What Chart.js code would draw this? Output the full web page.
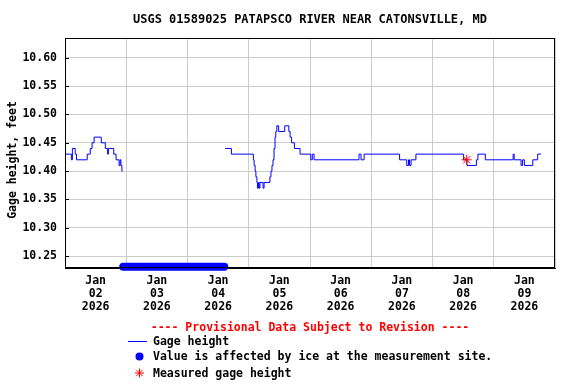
<!DOCTYPE html>
<html>
<head>
<meta charset="utf-8">
<script src="https://cdn.jsdelivr.net/npm/chart.js@4.4.1/dist/chart.umd.min.js"></script>
<style>
    body { margin: 0; background: #fff; }
    #wrap { position: relative; width: 576px; height: 384px; font-family: 'DejaVu Sans Mono', monospace; font-weight: bold; color: #000; }
    #wrap canvas { position: absolute; left: 0; top: 0; }
    .txt { position: absolute; white-space: pre; line-height: 14px; font-size: 11.5px; }
</style>
</head>
<body>
<div id="wrap">
    <canvas id="gageChart" width="576" height="384"></canvas>
    <div class="txt" style="left:65px; width:490px; top:12px; text-align:center; font-size:12px;">USGS 01589025 PATAPSCO RIVER NEAR CATONSVILLE, MD</div>
    <div class="txt" style="left:-88px; width:200px; top:153px; text-align:center; transform:rotate(-90deg);">Gage height, feet</div>
    <div class="txt" style="left:65px; width:490px; top:320px; text-align:center; color:#ff0000;">---- Provisional Data Subject to Revision ----</div>
    <div class="txt" style="left:153px; top:334px;">Gage height</div>
    <div class="txt" style="left:153px; top:349px;">Value is affected by ice at the measurement site.</div>
    <div class="txt" style="left:153px; top:366px;">Measured gage height</div>
</div>
<script>
// hours since Jan 02 00:00
const monthLabel = 'Jan';
const yearLabel = '2026';
const dayLabels = ['02', '03', '04', '05', '06', '07', '08', '09'];

const gageHours = [
    0.0, 2.5, 2.9, 4.0, 4.5, 8.7, 9.9, 10.6, 11.4, 14.2, 15.8, 16.7, 17.0, 19.1, 20.0, 21.2, 21.6, 21.9, 22.3, 22.5,
    42.0,
    62.7, 65.2, 73.8, 74.1, 74.5, 74.8, 75.2, 75.4, 75.8, 76.1, 76.4, 77.6, 78.0, 80.3, 80.7, 81.1, 81.5, 81.9, 82.3,
    82.6, 83.0, 83.7, 86.1, 87.7, 88.2, 88.8, 89.9, 92.1, 96.3, 96.9, 97.6, 115.2, 116.0, 117.2, 131.1, 133.9, 134.6,
    135.0, 135.6, 137.5, 156.2, 157.5, 161.2, 161.8, 164.7, 175.6, 176.0, 178.7, 179.3, 180.0, 183.3, 185.2, 186.5
];
const gageValues = [
    10.43, 10.42, 10.44, 10.43, 10.42, 10.43, 10.44, 10.45, 10.46, 10.45, 10.44, 10.43, 10.44, 10.43, 10.42, 10.41, 10.42, 10.41, 10.40, 10.40,
    null,
    10.44, 10.43, 10.42, 10.41, 10.40, 10.39, 10.38, 10.37, 10.38, 10.37, 10.38, 10.37, 10.38, 10.39, 10.40, 10.41, 10.42, 10.44, 10.46,
    10.47, 10.48, 10.47, 10.48, 10.47, 10.46, 10.45, 10.44, 10.43, 10.42, 10.43, 10.42, 10.43, 10.42, 10.43, 10.42, 10.41, 10.42,
    10.41, 10.42, 10.43, 10.42, 10.41, 10.42, 10.43, 10.42, 10.43, 10.42, 10.41, 10.42, 10.41, 10.42, 10.43, 10.43
];

// ice-affected period, drawn along the bottom of the plot
const iceHours = [22.8, 62.4];
const iceLevel = 10.231;

const measuredHours = [157.4];
const measuredValues = [10.42];

const yMin = 10.229;
const yMax = 10.635;

const toPoints = (xs, ys) => xs.map((x, i) => ({ x: x, y: ys[i] }));

const tickHours = [];
for (let i = 0; i <= dayLabels.length; i++) {
    tickHours.push(i * 24);
    if (i < dayLabels.length) tickHours.push(i * 24 + 12);
}

const monoFont = { family: 'DejaVu Sans Mono', size: 11.5, weight: 'bold' };

const framePlugin = {
    id: 'frame',
    afterDraw(chart) {
        const ctx = chart.ctx;
        const a = chart.chartArea;
        ctx.save();
        ctx.strokeStyle = '#000';
        ctx.lineWidth = 1;
        ctx.strokeRect(a.left + 0.5, a.top + 0.5, a.right - a.left - 1, a.bottom - a.top - 1);
        // small inward tick marks on the y axis
        const y = chart.scales.y;
        y.ticks.forEach(t => {
            const py = Math.round(y.getPixelForValue(t.value)) + 0.5;
            ctx.beginPath();
            ctx.moveTo(a.left, py);
            ctx.lineTo(a.left + 4, py);
            ctx.stroke();
        });
        // legend symbols
        ctx.strokeStyle = '#0000ff';
        ctx.beginPath();
        ctx.moveTo(128, 341.5);
        ctx.lineTo(147, 341.5);
        ctx.stroke();
        ctx.fillStyle = '#0000ff';
        ctx.beginPath();
        ctx.arc(139.5, 356.5, 4, 0, Math.PI * 2);
        ctx.fill();
        ctx.strokeStyle = '#ff0000';
        ctx.beginPath();
        for (let k = 0; k < 4; k++) {
            const ang = k * Math.PI / 4;
            ctx.moveTo(139.5 - 4.5 * Math.cos(ang), 373 - 4.5 * Math.sin(ang));
            ctx.lineTo(139.5 + 4.5 * Math.cos(ang), 373 + 4.5 * Math.sin(ang));
        }
        ctx.stroke();
        ctx.restore();
    }
};

new Chart(document.getElementById('gageChart'), {
    type: 'line',
    data: {
        datasets: [
            {
                label: 'Measured gage height',
                data: toPoints(measuredHours, measuredValues),
                showLine: false,
                pointStyle: 'star',
                pointRadius: 5,
                pointBorderColor: '#ff0000',
                pointBorderWidth: 1,
                borderColor: '#ff0000'
            },
            {
                label: 'Gage height',
                data: toPoints(gageHours, gageValues),
                borderColor: '#0000ff',
                borderWidth: 1,
                pointRadius: 0,
                stepped: true,
                spanGaps: false,
                fill: false
            },
            {
                label: 'Ice affected',
                data: toPoints(iceHours, iceHours.map(() => iceLevel)),
                borderColor: '#0000ff',
                borderWidth: 8,
                borderCapStyle: 'round',
                pointRadius: 0,
                fill: false,
                clip: false
            }
        ]
    },
    options: {
        responsive: false,
        animation: false,
        layout: { padding: { top: 38, right: 21, bottom: 66, left: 0 } },
        plugins: {
            legend: { display: false },
            tooltip: { enabled: false },
            title: { display: false }
        },
        scales: {
            x: {
                type: 'linear',
                min: 0,
                max: 192,
                afterBuildTicks: function(scale) {
                    scale.ticks = tickHours.map(v => ({ value: v }));
                },
                afterFit: function(scale) { scale.height = 50; },
                ticks: {
                    autoSkip: false,
                    maxRotation: 0,
                    padding: 7,
                    color: '#000',
                    font: Object.assign({ lineHeight: '13px' }, monoFont),
                    callback: function(value) {
                        if (value % 24 === 12) {
                            return [monthLabel, dayLabels[(value - 12) / 24], yearLabel];
                        }
                        return '';
                    }
                },
                grid: {
                    drawTicks: false,
                    color: ctx => (ctx.tick && ctx.tick.value % 24 === 0) ? '#cccccc' : 'rgba(0,0,0,0)'
                },
                border: { color: '#000' }
            },
            y: {
                min: yMin,
                max: yMax,
                afterFit: function(scale) { scale.width = 65; },
                ticks: {
                    stepSize: 0.05,
                    includeBounds: false,
                    padding: 8,
                    color: '#000',
                    font: monoFont,
                    callback: v => v.toFixed(2)
                },
                grid: { drawTicks: false, color: '#cccccc' },
                border: { color: '#000' }
            }
        }
    },
    plugins: [framePlugin]
});
</script>
</body>
</html>
